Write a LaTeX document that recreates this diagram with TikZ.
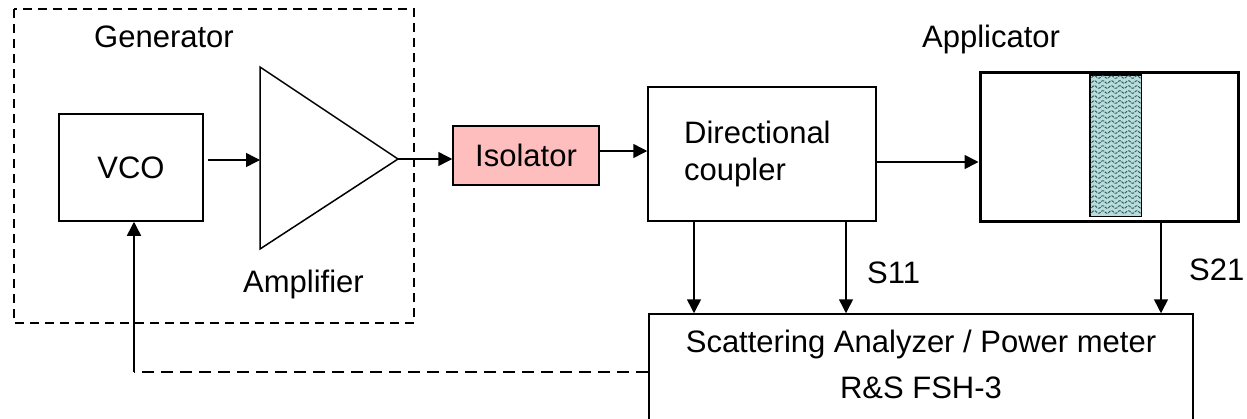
\documentclass[tikz,border=0pt]{standalone}
\usepackage{fontspec}
\setmainfont{Liberation Sans}
\usetikzlibrary{arrows.meta,calc}
\definecolor{isofill}{RGB}{255,190,190}
\definecolor{samplefill}{RGB}{184,220,220}
\definecolor{wavecol}{RGB}{45,85,85}
\tikzset{
  txt/.style={font=\fontsize{31}{37}\selectfont, inner sep=0pt},
  blk/.style={draw, line width=1.5pt, inner sep=0pt, font=\fontsize{31}{37}\selectfont},
  arr/.style={line width=1.5pt, -{Triangle[length=14pt,width=14pt]}},
  gendash/.style={line width=1.5pt, dash pattern=on 9pt off 6pt},
  fbdash/.style={line width=1.5pt, dash pattern=on 12pt off 7pt},
}
\begin{document}
\begin{tikzpicture}[x=1pt,y=-1pt]
\clip (0,0) rectangle (1247,418);
\fill[white] (0,0) rectangle (1247,418);

% generator group
\draw[gendash] (14,9) rectangle (414,323);
\node[txt, anchor=base west] (genlbl) at (94,47) {Generator};

\node[blk, minimum width=144pt, minimum height=107pt] (vco) at (131,167.5) {VCO};

% amplifier triangle
\coordinate (amptop) at (260,67);
\coordinate (ampbot) at (260,249);
\coordinate (amptip) at (398,159);
\coordinate (ampin) at (260,160);
\draw[line width=1.5pt, line join=miter] (amptop) -- (amptip) -- (ampbot) -- cycle;
\node[txt, anchor=base west] (amplbl) at (243,292) {Amplifier};

\node[blk, fill=isofill, minimum width=146pt, minimum height=59pt] (iso) at (526,155.5) {Isolator};

\node[blk, minimum width=228pt, minimum height=134pt] (coup) at (762,154) {};
\node[txt, align=left, anchor=west] (couplbl) at (684,153.5) {Directional\\coupler};

\node[draw, line width=3pt, inner sep=0pt, minimum width=258pt, minimum height=149pt] (app) at (1109,146.5) {};
\node[txt, anchor=base west] (applbl) at (922,47) {Applicator};

% sample
\node[draw, line width=1pt, fill=samplefill, inner sep=0pt, minimum width=51pt, minimum height=141pt] (sample) at (1115.5,145.5) {};
\begin{scope}
\clip (1090,75) rectangle (1141,216);
\foreach \r in {77,82,...,216}{
  \draw[wavecol, line width=0.9pt, dash pattern=on 3pt off 1pt] plot[domain=0:55, samples=70, smooth] ({\x+1088}, {\r + 1.3*sin(\x*42.35)});
}
\end{scope}
\draw[line width=1.2pt] (sample.north west) rectangle (sample.south east);

\node[blk, minimum width=544pt, minimum height=130pt] (ana) at (921,379) {};
\node[txt, align=center, font=\fontsize{31}{46}\selectfont] (analbl) at (921,364) {Scattering Analyzer / Power meter\\R\&S FSH-3};

% connectors
\draw[arr] ([xshift=4pt]vco.east |- ampin) -- (ampin);
\draw[arr] (amptip) -- (amptip -| iso.west);
\draw[arr] ([yshift=4.5pt]iso.east) -- ([yshift=4.5pt]iso.east -| coup.west);
\draw[arr] ([yshift=-8pt]coup.east) -- ([yshift=-8pt]coup.east -| app.west);
\draw[arr] ([xshift=-68pt]coup.south) -- ([xshift=-68pt]coup.south |- ana.north);
\draw[arr] ([xshift=84pt]coup.south) -- ([xshift=84pt]coup.south |- ana.north);
\draw[arr] ([xshift=52pt]app.south) -- ([xshift=52pt]app.south |- ana.north);
\node[txt, anchor=west] (s11) at (867,273) {S11};
\node[txt, anchor=west] (s21) at (1189,270) {S21};

\coordinate (fb) at (134,372);
\draw[fbdash] (ana.west |- fb) -- (fb);
\draw[arr] (fb) -- (fb |- vco.south);
\end{tikzpicture}
\end{document}
